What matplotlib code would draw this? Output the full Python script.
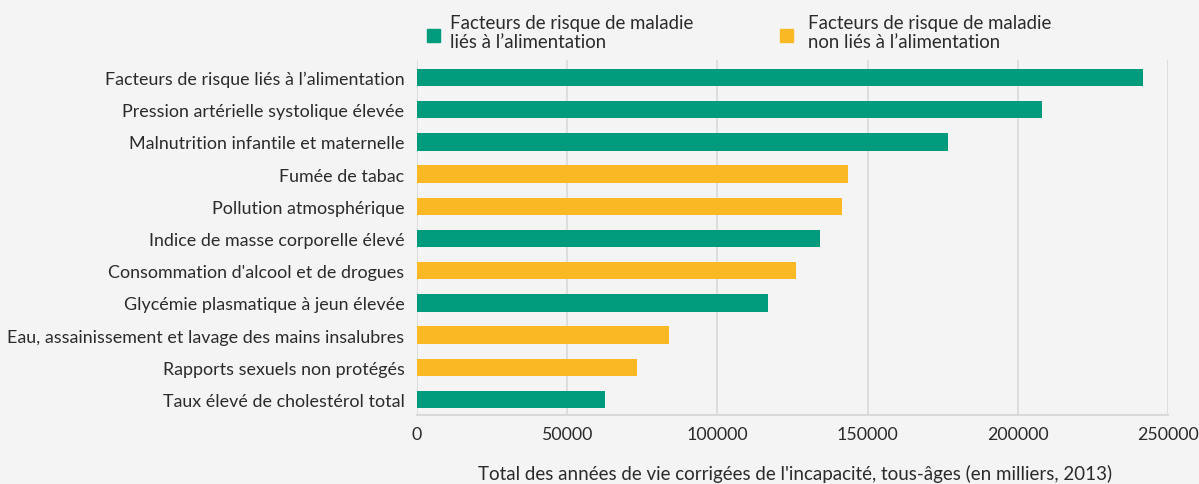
import matplotlib
matplotlib.use("Agg")
import matplotlib.pyplot as plt
from matplotlib.patches import Rectangle

categories = [
    "Facteurs de risque liés à l\u2019alimentation",
    "Pression artérielle systolique élevée",
    "Malnutrition infantile et maternelle",
    "Fumée de tabac",
    "Pollution atmosphérique",
    "Indice de masse corporelle élevé",
    "Consommation d'alcool et de drogues",
    "Glycémie plasmatique à jeun élevée",
    "Eau, assainissement et lavage des mains insalubres",
    "Rapports sexuels non protégés",
    "Taux élevé de cholestérol total",
]
values = [241600, 208200, 176900, 143500, 141500, 134100, 126100, 116800, 83800, 73200, 62600]
diet_related = [True, True, True, False, False, True, False, True, False, False, True]
xticks = [0, 50000, 100000, 150000, 200000, 250000]
legend_labels = ["Facteurs de risque de maladie\nliés à l\u2019alimentation",
                 "Facteurs de risque de maladie\nnon liés à l\u2019alimentation"]
xlabel = "Total des années de vie corrigées de l'incapacité, tous-âges (en milliers, 2013)"

GREEN = "#009b7d"
YELLOW = "#fab824"
BG = "#f4f4f4"
GRID = "#d9d9d9"
TXT = "#2b2b2b"
FONT = "Lato"

W, H = 1199, 485
fig = plt.figure(figsize=(W / 100, H / 100), dpi=100, facecolor=BG)
ax = fig.add_axes([417 / W, 1 - 416 / H, (1168 - 417) / W, (416 - 61) / H])
ax.set_facecolor(BG)

n = len(categories)
ypos = list(range(n))
colors = [GREEN if d else YELLOW for d in diet_related]
ax.barh(ypos, values, height=0.54, color=colors, zorder=3)
ax.set_ylim(n - 0.52, -0.54)
ax.set_xlim(0, 250000)
ax.set_xticks(xticks)
ax.set_xticklabels([str(v) for v in xticks], fontsize=12.8, family=FONT, color=TXT)
ax.set_yticks(ypos)
ax.set_yticklabels(categories, fontsize=12.9, family=FONT, color=TXT)
ax.tick_params(axis="both", length=0)
ax.tick_params(axis="y", pad=9)
ax.tick_params(axis="x", pad=8)
ax.grid(axis="x", color=GRID, linewidth=1.2, zorder=0)
for s in ["top", "right", "left"]:
    ax.spines[s].set_visible(False)
ax.spines["bottom"].set_color(GRID)
ax.spines["bottom"].set_linewidth(1.5)
fig.text(795 / W, 1 - 474 / H, xlabel, fontsize=13.5, family=FONT, color=TXT,
         ha="center", va="center")

# legend
for (x0, tx, col, lab) in [(427, 450, GREEN, legend_labels[0]),
                           (780, 808, YELLOW, legend_labels[1])]:
    fig.patches.append(Rectangle((x0 / W, 1 - 43 / H), 13 / W, 13 / H,
                                 transform=fig.transFigure, color=col))
    fig.text(tx / W, 1 - 33 / H, lab, fontsize=13.4, family=FONT, color=TXT,
             va="center", ha="left", linespacing=1.15)

fig.savefig("out.png", dpi=100, facecolor=BG)
